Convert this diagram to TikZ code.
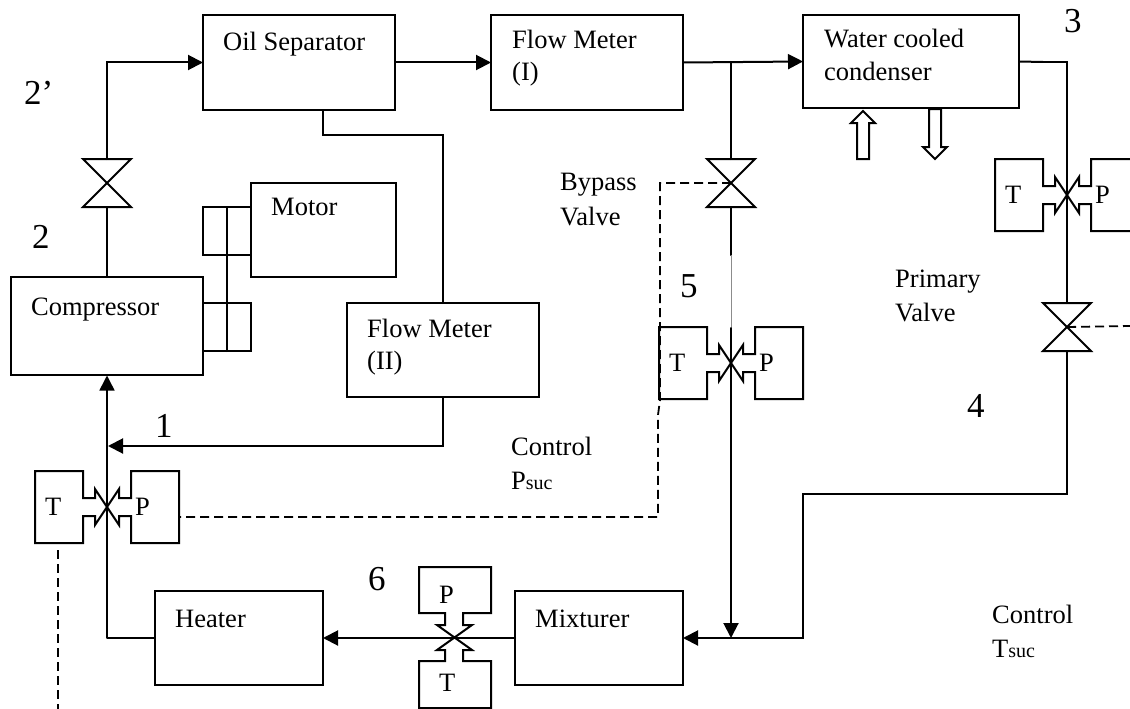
\documentclass[tikz,border=0pt]{standalone}
\usepackage{fontspec}
\setmainfont{Liberation Serif}
\usetikzlibrary{arrows.meta}
\tikzset{
  x=1pt,y=-1pt,
  ln/.style={line width=2pt,line cap=round,line join=miter},
  box/.style={draw,rectangle,line width=2pt,inner sep=0pt,outer sep=0pt},
  flow/.style={ln,-{Triangle[length=15pt,width=15pt]}},
  pipe/.style={ln},
  thinpipe/.style={line width=1.5pt},
  ctrl/.style={line width=1.8pt,dash pattern=on 9pt off 5pt},
  txt/.style={anchor=base west,inner sep=0pt,font=\fontsize{26.5}{26.5}\selectfont},
  num/.style={anchor=base west,inner sep=0pt,font=\fontsize{35}{35}\selectfont},
}
\newcommand{\smallsuc}[1]{{\fontsize{20}{20}\selectfont #1}}
% bow-tie valve: vertical flow
\newcommand{\bowvalve}[3]{%
  \coordinate (#1) at (#2,#3);
  \coordinate (#1-t) at (#2,#3-24);
  \coordinate (#1-b) at (#2,#3+24);
  \draw[ln] (#1)+(-24,-24) -- +(24,-24) -- +(-24,24) -- +(24,24) -- cycle;
}
% T/P sensor on a vertical pipe
\newcommand{\sensorV}[3]{%
  \coordinate (#1) at (#2,#3);
  \draw[ln,line cap=butt] (#1)+(-24,-36) -- +(-72,-36) -- +(-72,36) -- +(-24,36) -- +(-24,9) -- +(-12,9) -- +(-12,18) -- +(12,-18) -- +(12,-9) -- +(24,-9) -- +(24,-36) -- +(72,-36) -- +(72,36) -- +(24,36) -- +(24,9) -- +(12,9) -- +(12,18) -- +(-12,-18) -- +(-12,-9) -- +(-24,-9) -- cycle;
  \node[txt] (#1T) at (#2-62,#3+8) {T};
  \node[txt] (#1P) at (#2+28,#3+8) {P};
}
\begin{document}
\begin{tikzpicture}
\clip (0,0) rectangle (1130,709);
\fill[white] (0,0) rectangle (1130,709);

% boxes
\node[box,minimum width=192pt,minimum height=98pt] (comp) at (107,326) {};
\node[box,minimum width=145pt,minimum height=94pt] (motor) at (323.5,230) {};
\node[box,minimum width=48pt,minimum height=48pt] (cplA) at (227,231) {};
\node[box,minimum width=48pt,minimum height=48pt] (cplB) at (227,327) {};
\node[box,minimum width=192pt,minimum height=95pt] (oil) at (299,62.5) {};
\node[box,minimum width=192pt,minimum height=95pt] (fm1) at (587,62.5) {};
\node[box,minimum width=216pt,minimum height=93pt] (cond) at (911,61.5) {};
\node[box,minimum width=192pt,minimum height=94pt] (fm2) at (443,350) {};
\node[box,minimum width=168pt,minimum height=94pt] (heater) at (239,638) {};
\node[box,minimum width=168pt,minimum height=94pt] (mix) at (599,638) {};

% valves and sensors
\bowvalve{v2}{107}{183}
\bowvalve{vby}{731}{183}
\bowvalve{vpr}{1067}{327}
\sensorV{s1}{107}{507}
\sensorV{s5}{731}{363}
\sensorV{s3}{1067}{195}

% horizontal sensor (6)
\coordinate (s6) at (454,638);
\draw[ln,line cap=butt] (s6)+(-9,-25) -- +(-9,-13) -- +(-17,-13) -- +(18,12) -- +(9,12) -- +(9,23) -- +(37,23) -- +(37,70) -- +(-35,70) -- +(-35,23) -- +(-9,23) -- +(-9,12) -- +(-17,12) -- +(18,-13) -- +(9,-13) -- +(9,-25) -- +(37,-25) -- +(37,-71) -- +(-35,-71) -- +(-35,-25) -- cycle;
\node[txt] (s6P) at (439,603) {P};
\node[txt] (s6T) at (439,691) {T};

% coupling shaft
\draw[pipe] (cplA.north) -- (cplB.south);

% pipes
\draw[pipe] (comp.north) -- (v2-b);
\draw[flow] (v2-t) |- (oil.west);
\draw[flow] (oil.east) -- (fm1.west);
\draw[flow] (fm1.east) -- (cond.west);
\coordinate (tee) at (731,62);
\draw[pipe] (tee) -- (vby-t);
\draw[pipe] (vby-b) -- (731,255);
\draw[line width=1pt,black!45] (731,255) -- (731,328);
\draw[pipe] (731,328) -- (s5);
\coordinate (mixtee) at (731,638);
\draw[flow] (s5) -- (mixtee);
\draw[pipe] (cond.east) -- (1043,62);
\draw[thinpipe] (1043,62) -| (s3);
\draw[pipe] (s3) -- (vpr-t);
\coordinate (turnA) at (1067,494);
\coordinate (turnB) at (803,494);
\coordinate (turnC) at (803,638);
\draw[flow] (vpr-b) -- (turnA) -- (turnB) -- (turnC) -- (mix.east);
\draw[flow] (mix.west) -- (heater.east);
\coordinate (heatcorner) at (107,638);
\draw[thinpipe,line join=round] (heater.west) -- (heatcorner) -- (s1);
\draw[thinpipe,-{Triangle[length=15pt,width=15pt]}] (s1) -- (107,375.5);
\draw[pipe] ([xshift=24pt]oil.south) |- (443,135) -- (fm2.north);
\coordinate (ret) at (108,446);
\draw[flow] (fm2.south) |- (ret);

% control lines
\coordinate (dashA) at (660,183);
\coordinate (dashB) at (660,400);
\coordinate (dashC) at (658,415);
\coordinate (dashD) at (658,517);
\coordinate (dashE) at (178,517);
\draw[ctrl] (vby) -- (dashA) -- (dashB) -- (dashC) -- (dashD) -- (dashE);
\coordinate (dashF) at (58,550);
\coordinate (dashG) at (58,709);
\draw[ctrl] (dashF) -- (dashG);
\coordinate (dashH) at (1130,326);
\draw[ctrl] (vpr) -- (dashH);

% hollow water arrows
\draw[ln,line cap=butt,line join=miter] (857,159) -- (857,123) -- (851,123) -- (863,111) -- (875,123) -- (869,123) -- (869,159) -- cycle;
\draw[ln,line cap=butt,line join=miter] (929,109) -- (929,147) -- (923,147) -- (935,159) -- (947,147) -- (941,147) -- (941,109) -- cycle;

% labels
\node[txt] (tcomp) at (31,315) {Compressor};
\node[txt] (tmotor) at (271,215) {Motor};
\node[txt] (toil) at (223,51) {Oil Separator};
\node[txt] (tfm1a) at (512,49) {Flow Meter};
\node[txt] (tfm1b) at (512,81) {(I)};
\node[txt] (tw1) at (824,48) {Water cooled};
\node[txt] (tw2) at (824,81) {condenser};
\node[txt] (tfm2a) at (367,337) {Flow Meter};
\node[txt] (tfm2b) at (367,369) {(II)};
\node[txt] (theat) at (175,627) {Heater};
\node[txt] (tmix) at (535,627) {Mixturer};
\node[txt] (tby1) at (560,190) {Bypass};
\node[txt] (tby2) at (560,225) {Valve};
\node[txt] (tpr1) at (895,287) {Primary};
\node[txt] (tpr2) at (895,321) {Valve};
\node[txt] (tc1) at (511,455) {Control};
\node[txt] (tc2) at (511,489) {P\smallsuc{suc}};
\node[txt] (tc3) at (992,623) {Control};
\node[txt] (tc4) at (992,657) {T\smallsuc{suc}};
\node[num] (n2p) at (24,104) {2’};
\node[num] (n2) at (32,248) {2};
\node[num] (n3) at (1064,33) {3};
\node[num] (n5) at (680,297) {5};
\node[num] (n4) at (967,417) {4};
\node[num] (n6) at (368,590) {6};
\node[num] (n1) at (155,437) {1};
\end{tikzpicture}
\end{document}
